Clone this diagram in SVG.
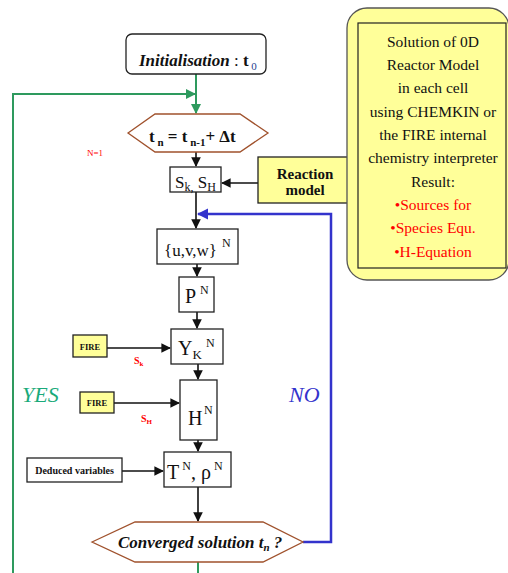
<svg xmlns="http://www.w3.org/2000/svg" width="508" height="573" viewBox="0 0 508 573">
<defs>
<style>
.box{fill:#fff;stroke:#222;stroke-width:1.3}
.ybox{fill:#ffff99;stroke:#222;stroke-width:1.3}
.hex{fill:#fff;stroke:#a0522d;stroke-width:1.3}
.t{font-family:"Liberation Serif","Times New Roman",serif;fill:#111}
.blk{stroke:#111;stroke-width:1.6;fill:none}
.grn{stroke:#2e9a5e;stroke-width:2;fill:none}
.blu{stroke:#3333cc;stroke-width:2.5;fill:none}
.red{fill:#ff0000}
.yes{fill:#1aaa7a}
.no{fill:#3333cc}
.sub0{fill:#1f3f8f}
</style>
<marker id="ab" viewBox="0 0 10 10" refX="9" refY="5" markerWidth="6" markerHeight="6" orient="auto"><path d="M0,0 L10,5 L0,10 z" fill="#111"/></marker>
<marker id="ag" viewBox="0 0 10 10" refX="9" refY="5" markerWidth="5" markerHeight="5" orient="auto"><path d="M0,0 L10,5 L0,10 z" fill="#2e9a5e"/></marker>
<marker id="au" viewBox="0 0 10 10" refX="9" refY="5" markerWidth="4.5" markerHeight="4.5" orient="auto"><path d="M0,0 L10,5 L0,10 z" fill="#3333cc"/></marker>
</defs>

<g id="connectors">
<path class="grn" d="M196,74 V113" marker-end="url(#ag)"/>
<path class="grn" d="M13,573 V94 H195" marker-end="url(#ag)"/>
<path class="grn" d="M198,562 V573"/>
<path class="blk" d="M196,152 V166" marker-end="url(#ab)"/>
<path class="blk" d="M258,183 H222" marker-end="url(#ab)"/>
<path class="blk" d="M196,192 V228" marker-end="url(#ab)"/>
<path class="blk" d="M197,264 V276" marker-end="url(#ab)"/>
<path class="blk" d="M197,312 V328" marker-end="url(#ab)"/>
<path class="blk" d="M107,348 H170" marker-end="url(#ab)"/>
<path class="blk" d="M198,364 V379" marker-end="url(#ab)"/>
<path class="blk" d="M114,403 H179" marker-end="url(#ab)"/>
<path class="blk" d="M198,440 V451" marker-end="url(#ab)"/>
<path class="blk" d="M122,471 H163" marker-end="url(#ab)"/>
<path class="blk" d="M198,487 V521" marker-end="url(#ab)"/>
<path class="blu" d="M303,542 H331 V214 H198" marker-end="url(#au)"/>
</g>

<g id="init">
<rect class="box" x="126" y="34" width="140" height="40" rx="6"/>
<text class="t" x="139" y="66" font-size="17"><tspan font-weight="bold" font-style="italic">Initialisation</tspan> : <tspan font-weight="bold">t</tspan><tspan class="sub0" font-size="11" dy="4"> 0</tspan></text>
</g>

<g id="step">
<polygon class="hex" points="128,133 155,114 240,114 268,133 240,152 155,152"/>
<text class="t" x="149" y="142" font-size="17" font-weight="bold">t<tspan font-size="11" dy="4"> n</tspan><tspan dy="-4"> = t</tspan><tspan font-size="11" dy="4"> n-1</tspan><tspan dy="-4">+ Δt</tspan></text>
</g>

<text class="t red" x="87" y="156" font-size="9">N=1</text>

<g id="sources">
<rect class="box" x="170" y="167" width="51" height="25"/>
<text class="t" x="175" y="188" font-size="17">S<tspan font-size="12" dy="3">k,</tspan><tspan dy="-3"> S</tspan><tspan font-size="12" dy="3">H</tspan></text>
</g>

<g id="reaction">
<rect class="ybox" x="258" y="157" width="94" height="46"/>
<text class="t" x="305" y="179" font-size="15" font-weight="bold" text-anchor="middle">Reaction</text>
<text class="t" x="305" y="195" font-size="15" font-weight="bold" text-anchor="middle">model</text>
</g>

<g id="solution">
<rect x="347" y="8" width="162" height="272" rx="20" fill="#ffff99" stroke="#555" stroke-width="1.3"/>
<rect x="358" y="23" width="148" height="245" fill="none" stroke="#222" stroke-width="1.2"/>
<g class="t" font-size="15.5" text-anchor="middle">
<text x="433" y="47">Solution of 0D</text>
<text x="433" y="70">Reactor Model</text>
<text x="433" y="93">in each cell</text>
<text x="433" y="117">using CHEMKIN or</text>
<text x="433" y="140">the FIRE internal</text>
<text x="433" y="163">chemistry interpreter</text>
<text x="433" y="187">Result:</text>
<text x="433" y="210" class="red">•Sources for</text>
<text x="433" y="233" class="red">•Species Equ.</text>
<text x="433" y="257" class="red">•H-Equation</text>
</g>
</g>

<g id="velocity">
<rect class="box" x="157" y="229" width="81" height="35"/>
<text class="t" x="164" y="256" font-size="17">{u,v,w}</text>
<text class="t" x="222" y="247" font-size="12">N</text>
</g>

<g id="pressure">
<rect class="box" x="179" y="277" width="35" height="35"/>
<text class="t" x="185" y="303" font-size="20">P</text>
<text class="t" x="200" y="294" font-size="12">N</text>
</g>

<g id="species">
<rect class="box" x="171" y="329" width="52" height="35"/>
<text class="t" x="178" y="355" font-size="20">Y<tspan font-size="13" dy="4">K</tspan></text>
<text class="t" x="206" y="347" font-size="12">N</text>
</g>

<g id="fire1">
<rect class="ybox" x="73" y="335" width="34" height="22"/>
<text class="t" x="90" y="349.5" font-size="8.5" font-weight="bold" text-anchor="middle">FIRE</text>
</g>
<text class="t red" x="134" y="364" font-size="10" font-weight="bold">S<tspan font-size="7" dy="2">k</tspan></text>

<g id="enthalpy">
<rect class="box" x="180" y="380" width="37" height="60"/>
<text class="t" x="188" y="425" font-size="20">H</text>
<text class="t" x="204" y="414" font-size="12">N</text>
</g>

<g id="fire2">
<rect class="ybox" x="80" y="392" width="34" height="21"/>
<text class="t" x="97" y="406" font-size="8.5" font-weight="bold" text-anchor="middle">FIRE</text>
</g>
<text class="t red" x="141" y="422" font-size="10" font-weight="bold">S<tspan font-size="7" dy="2">H</tspan></text>

<text class="t yes" x="22" y="402" font-size="22" font-style="italic">YES</text>
<text class="t no" x="289" y="402" font-size="22" font-style="italic">NO</text>

<g id="temperature">
<rect class="box" x="164" y="452" width="67" height="35"/>
<text class="t" x="167" y="479" font-size="20">T<tspan font-size="12" dy="-9"> N</tspan><tspan dy="9">, ρ</tspan><tspan font-size="12" dy="-9"> N</tspan></text>
</g>

<g id="deduced">
<rect class="box" x="27" y="458" width="95" height="24"/>
<text class="t" x="74.5" y="474" font-size="10" font-weight="bold" text-anchor="middle">Deduced variables</text>
</g>

<g id="converged">
<polygon class="hex" points="92,542 135,522 263,522 303,542 263,562 135,562"/>
<text class="t" x="118" y="548" font-size="17" font-weight="bold" font-style="italic">Converged solution t<tspan font-size="11" dy="3">n</tspan><tspan dy="-3"> ?</tspan></text>
</g>
</svg>
